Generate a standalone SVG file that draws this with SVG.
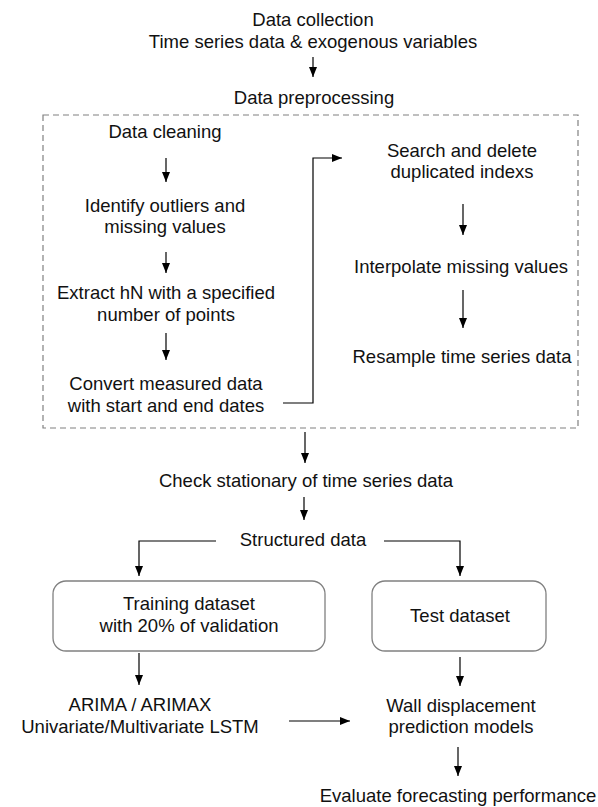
<svg xmlns="http://www.w3.org/2000/svg" width="598" height="807" viewBox="0 0 598 807">
<style>
text{font-family:"Liberation Sans",Arial,sans-serif;font-size:18.5px;fill:#111;text-anchor:middle}
.ln{fill:none;stroke:#000;stroke-width:1.2}
.box{fill:#fff;stroke:#808080;stroke-width:1.3}
.dash{fill:none;stroke:#808080;stroke-width:1.2;stroke-dasharray:6 4}
</style>
<defs>
<marker id="ah" markerUnits="userSpaceOnUse" markerWidth="10" markerHeight="8" refX="10" refY="4" orient="auto">
<path d="M0,0 L10,4 L0,8 z" fill="#000"/>
</marker>
</defs>
<rect width="598" height="807" fill="#fff"/>
<g id="preprocessing-frame">
<rect class="dash" x="43" y="115" width="535" height="313"/>
</g>
<g id="connectors">
<line class="ln" x1="313" y1="57" x2="313" y2="77" marker-end="url(#ah)"/>
<line class="ln" x1="166" y1="158" x2="166" y2="182" marker-end="url(#ah)"/>
<line class="ln" x1="166" y1="252" x2="166" y2="273" marker-end="url(#ah)"/>
<line class="ln" x1="166" y1="333" x2="166" y2="360" marker-end="url(#ah)"/>
<polyline class="ln" points="283,403 313,403 313,158 342,158" marker-end="url(#ah)"/>
<line class="ln" x1="463" y1="204" x2="463" y2="235" marker-end="url(#ah)"/>
<line class="ln" x1="463" y1="290" x2="463" y2="328" marker-end="url(#ah)"/>
<line class="ln" x1="305" y1="432" x2="305" y2="463" marker-end="url(#ah)"/>
<line class="ln" x1="304" y1="497" x2="304" y2="520" marker-end="url(#ah)"/>
<polyline class="ln" points="216,541 139,541 139,576" marker-end="url(#ah)"/>
<polyline class="ln" points="384,541 460,541 460,576" marker-end="url(#ah)"/>
<line class="ln" x1="139" y1="653" x2="139" y2="685" marker-end="url(#ah)"/>
<line class="ln" x1="460" y1="657" x2="460" y2="686" marker-end="url(#ah)"/>
<line class="ln" x1="289" y1="721" x2="350" y2="721" marker-end="url(#ah)"/>
<line class="ln" x1="458" y1="747" x2="458" y2="776" marker-end="url(#ah)"/>
</g>
<g id="data-collection">
<text x="313" y="26">Data collection</text>
<text x="313" y="48">Time series data &amp; exogenous variables</text>
</g>
<g id="data-preprocessing">
<text x="314" y="104">Data preprocessing</text>
</g>
<g id="data-cleaning">
<text x="165" y="138">Data cleaning</text>
</g>
<g id="identify-outliers">
<text x="165" y="212">Identify outliers and</text>
<text x="165" y="233">missing values</text>
</g>
<g id="extract-hn">
<text x="166" y="299">Extract hN with a specified</text>
<text x="166" y="321">number of points</text>
</g>
<g id="convert-measured">
<text x="166" y="390">Convert measured data</text>
<text x="166" y="412">with start and end dates</text>
</g>
<g id="search-delete">
<text x="462" y="157">Search and delete</text>
<text x="462" y="178">duplicated indexs</text>
</g>
<g id="interpolate">
<text x="461" y="273">Interpolate missing values</text>
</g>
<g id="resample">
<text x="462" y="363">Resample time series data</text>
</g>
<g id="check-stationary">
<text x="306" y="487">Check stationary of time series data</text>
</g>
<g id="structured-data">
<text x="303" y="546">Structured data</text>
</g>
<g id="training-dataset">
<rect class="box" x="53" y="581" width="272" height="70" rx="13"/>
<text x="189" y="610">Training dataset</text>
<text x="189" y="632">with 20% of validation</text>
</g>
<g id="test-dataset">
<rect class="box" x="372" y="581" width="174" height="70" rx="13"/>
<text x="460" y="622">Test dataset</text>
</g>
<g id="models">
<text x="140" y="711">ARIMA / ARIMAX</text>
<text x="140" y="733">Univariate/Multivariate LSTM</text>
</g>
<g id="wall-displacement">
<text x="461" y="712">Wall displacement</text>
<text x="461" y="733">prediction models</text>
</g>
<g id="evaluate">
<text x="458" y="802">Evaluate forecasting performance</text>
</g>
</svg>
